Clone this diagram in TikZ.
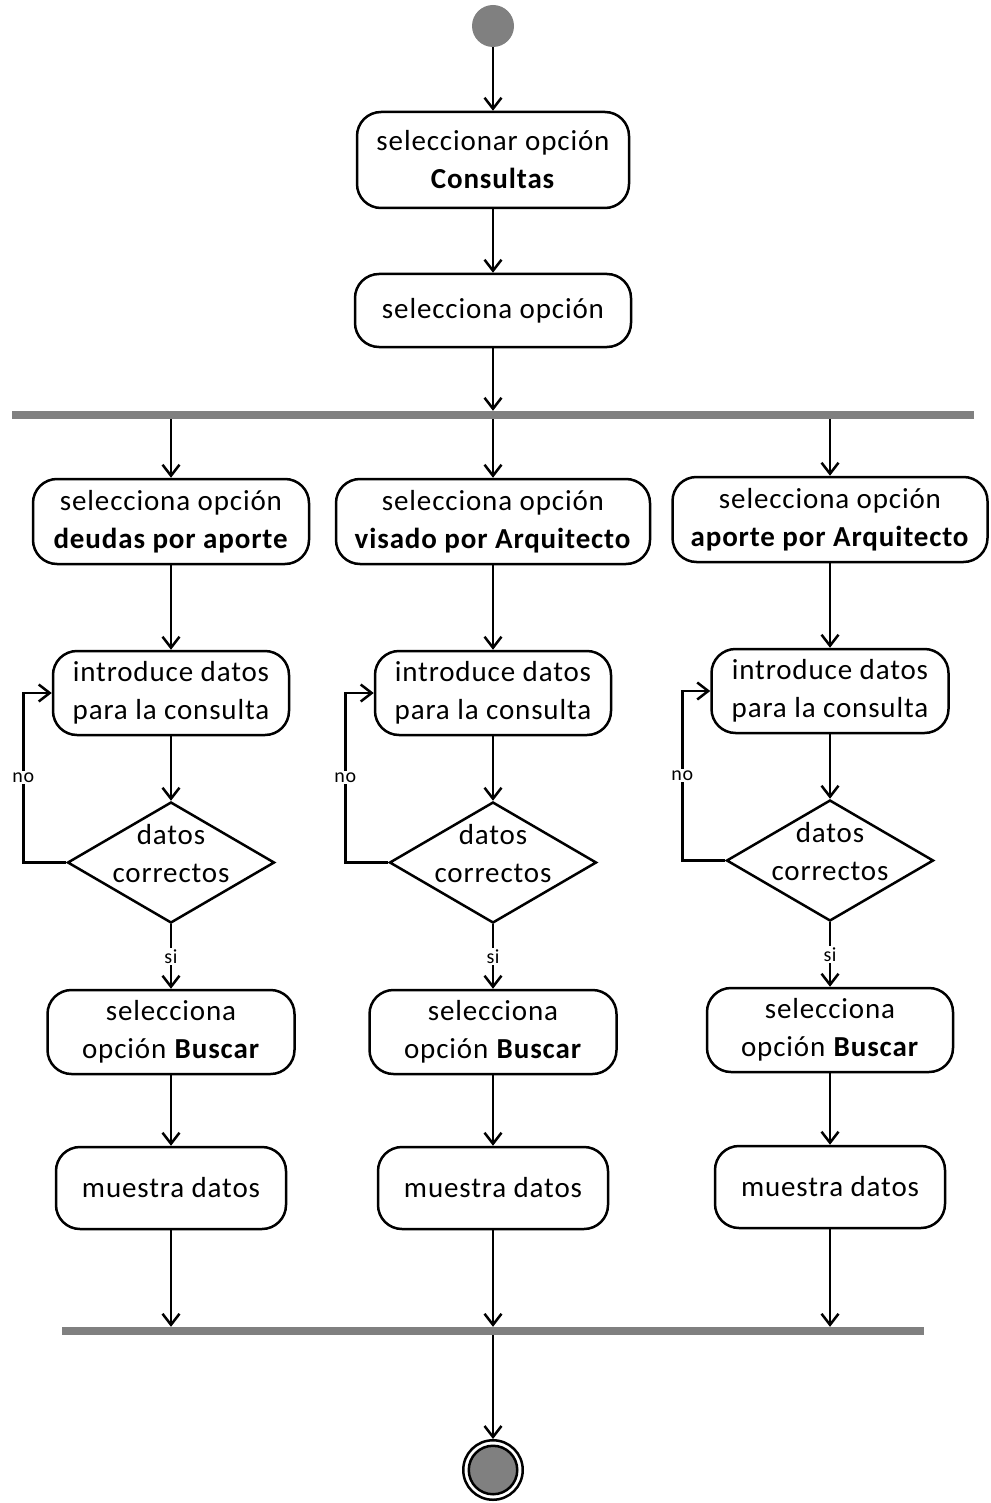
\documentclass[tikz,border=0pt]{standalone}
\usepackage{fontspec}
\setmainfont{Carlito}[LetterSpace=3]
\usetikzlibrary{shapes.geometric,arrows.meta}
\definecolor{bargray}{HTML}{808080}
\begin{document}
\begin{tikzpicture}[x=1pt,y=-1pt,
  act/.style={draw, line width=2.5pt, rounded corners=24pt, align=center, inner sep=0pt,
    font=\fontsize{29}{38}\selectfont},
  dec/.style={draw, diamond, line width=2.5pt, inner sep=0pt, minimum width=207pt, minimum height=121pt},
  dectext/.style={align=center, inner sep=0pt, font=\fontsize{29}{38}\selectfont},
  bar/.style={fill=bargray, inner sep=0pt, minimum height=8pt},
  flow/.style={line width=2.5pt, -{Straight Barb[length=11pt,width=17pt,line width=2.5pt]}},
  guard/.style={font=\fontsize{20}{22}\selectfont, fill=white, inner sep=1.5pt},
]
\useasboundingbox (0,0) rectangle (990,1503);

% initial node and common steps
\node[circle, fill=bargray, inner sep=0pt, minimum size=42pt] (start) at (493,26) {};
\node[act, minimum width=272pt, minimum height=96pt] (s1) at (493,160) {seleccionar opción\\\textbf{Consultas}};
\node[act, minimum width=276pt, minimum height=73pt] (s2) at (493,310.5) {selecciona opción};
\node[bar, minimum width=962pt] (fork) at (493,415) {};

% left branch
\node[act, minimum width=276pt, minimum height=85pt] (a1) at (171,521.5) {selecciona opción\\\textbf{deudas por aporte}};
\node[act, minimum width=236pt, minimum height=84pt] (a2) at (171,693) {introduce datos\\para la consulta};
\node[dec] (da) at (171,862.5) {};
\node[dectext] (ta) at (171,854) {datos\\correctos};
\node[act, minimum width=247pt, minimum height=84pt] (a3) at (171,1032) {selecciona\\opción \textbf{Buscar}};
\node[act, minimum width=230pt, minimum height=82pt] (a4) at (171,1188) {muestra datos};

% middle branch
\node[act, minimum width=314pt, minimum height=85pt] (b1) at (493,521.5) {selecciona opción\\\textbf{visado por Arquitecto}};
\node[act, minimum width=236pt, minimum height=84pt] (b2) at (493,693) {introduce datos\\para la consulta};
\node[dec] (db) at (493,862.5) {};
\node[dectext] (tb) at (493,854) {datos\\correctos};
\node[act, minimum width=247pt, minimum height=84pt] (b3) at (493,1032) {selecciona\\opción \textbf{Buscar}};
\node[act, minimum width=230pt, minimum height=82pt] (b4) at (493,1188) {muestra datos};

% right branch
\node[act, minimum width=315pt, minimum height=85pt] (c1) at (830,519.5) {selecciona opción\\\textbf{aporte por Arquitecto}};
\node[act, minimum width=237pt, minimum height=84pt] (c2) at (830,691) {introduce datos\\para la consulta};
\node[dec] (dc) at (830,860.5) {};
\node[dectext] (tc) at (830,852) {datos\\correctos};
\node[act, minimum width=246pt, minimum height=84pt] (c3) at (830,1030) {selecciona\\opción \textbf{Buscar}};
\node[act, minimum width=230pt, minimum height=82pt] (c4) at (830,1187) {muestra datos};

% join and final node
\node[bar, minimum width=862pt] (join) at (493,1331) {};
\node[circle, draw, line width=2.5pt, inner sep=0pt, minimum size=59.5pt] (end) at (493,1470) {};
\node[circle, draw, fill=bargray, line width=2.5pt, inner sep=0pt, minimum size=48.5pt] (endcore) at (end) {};

% flows
\draw[flow] (start) -- (s1);
\draw[flow] (s1) -- (s2);
\draw[flow] (s2) -- (fork);
\foreach \c in {a,b,c}{
  \draw[flow] (fork.south -| \c1) -- (\c1);
  \draw[flow] (\c1) -- (\c2);
  \draw[flow] (\c2) -- (d\c);
  \draw[flow] (d\c) -- node[guard] {si} (\c3);
  \draw[flow] (d\c.west) -| ([xshift=-43pt]d\c.west |- \c2.west) node[guard, pos=0.75] {no} -- (\c2.west);
  \draw[flow] (\c3) -- (\c4);
  \draw[flow] (\c4) -- (\c4 |- join.north);
}
\draw[flow] (join) -- (end);
\end{tikzpicture}
\end{document}
